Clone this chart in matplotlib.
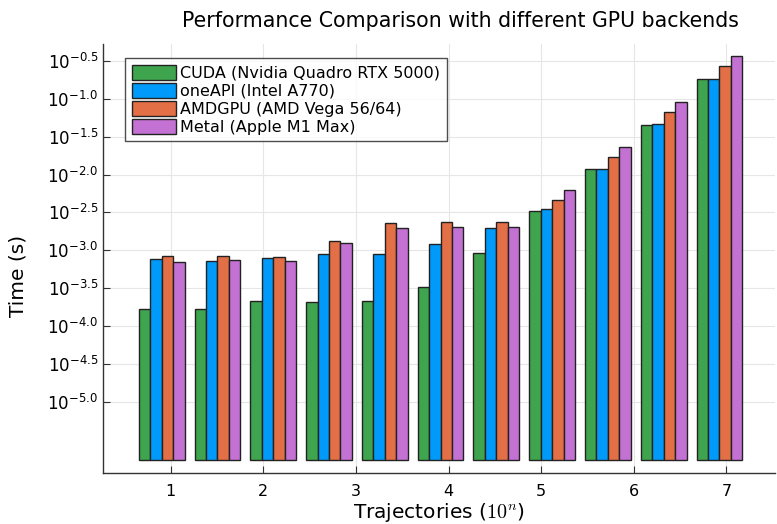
import matplotlib.pyplot as plt
import numpy as np

# trajectories (x axis is log10 of these)
trajectories = [8, 32, 128, 512, 2048, 8192, 32768, 131072, 524288, 2097152, 8388608]

backends = ['CUDA (Nvidia Quadro RTX 5000)', 'oneAPI (Intel A770)',
            'AMDGPU (AMD Vega 56/64)', 'Metal (Apple M1 Max)']
colors = ['#3EA44E', '#009AFA', '#E36F47', '#C371D2']

# time in seconds
cuda = [1.68e-4, 1.71e-4, 2.13e-4, 2.09e-4, 2.13e-4, 3.29e-4, 9.14e-4, 3.30e-3, 0.01189, 0.0455, 0.1816]
oneapi = [7.78e-4, 7.24e-4, 8.02e-4, 8.95e-4, 8.95e-4, 1.225e-3, 1.99e-3, 3.46e-3, 0.01189, 0.0460, 0.1832]
amdgpu = [8.34e-4, 8.34e-4, 8.17e-4, 1.343e-3, 2.286e-3, 2.33e-3, 2.39e-3, 4.65e-3, 0.0171, 0.0668, 0.2716]
metal = [7.10e-4, 7.38e-4, 7.16e-4, 1.236e-3, 1.945e-3, 2.01e-3, 2.05e-3, 6.22e-3, 0.02333, 0.0906, 0.368]

series = [cuda, oneapi, amdgpu, metal]
yticks = [-5.0, -4.5, -4.0, -3.5, -3.0, -2.5, -2.0, -1.5, -1.0, -0.5]

x = np.log10(trajectories)
w = 0.602 * 0.82 / 4
base = 10 ** -5.76

fig = plt.figure(figsize=(7.77, 5.24), dpi=100)
ax = fig.add_axes([0.1326, 0.098, 0.8644, 0.818])

for j, (vals, col, lab) in enumerate(zip(series, colors, backends)):
    vals = np.array(vals)
    ax.bar(x + (j - 1.5) * w, vals - base, bottom=base, width=w, color=col,
           edgecolor='#222222', linewidth=1.0, label=lab, zorder=3)

ax.set_yscale('log')
ax.set_ylim(10 ** -5.93, 10 ** -0.28)
ax.set_xlim(0.27, 7.52)
ax.set_yticks([10 ** t for t in yticks])
ax.set_yticklabels(['$10^{%.1f}$' % t for t in yticks])
ax.yaxis.set_minor_locator(plt.NullLocator())
ax.set_xticks([1, 2, 3, 4, 5, 6, 7])

ax.grid(True, color='#e6e6e6', linewidth=0.8, zorder=0)
ax.spines['top'].set_visible(False)
ax.spines['right'].set_visible(False)
for s in ['left', 'bottom']:
    ax.spines[s].set_color('#333333')
    ax.spines[s].set_linewidth(1.0)
ax.tick_params(direction='in', length=5, labelsize=12, colors='#333333',
               labelcolor='black')
ax.tick_params(axis='x', pad=8, labelsize=11.5)

ax.set_title('Performance Comparison with different GPU backends', fontsize=14.8,
             x=0.532, pad=12)
ax.set_ylabel('Time (s)', fontsize=14.5)
ax.yaxis.set_label_coords(-0.112, 0.46)
ax.set_xlabel('Trajectories ($10^n$)', fontsize=14.5, math_fontfamily='cm')
ax.xaxis.set_label_coords(0.5, -0.066)

leg = ax.legend(loc='upper left', bbox_to_anchor=(0.033, 0.967), fontsize=11.5,
                frameon=True, fancybox=False, edgecolor='#222222',
                borderaxespad=0, handlelength=2.75, handleheight=1.1,
                labelspacing=0.12, borderpad=0.4, handletextpad=0.3)
leg.get_frame().set_linewidth(1.0)

fig.savefig('out.png', dpi=100)
